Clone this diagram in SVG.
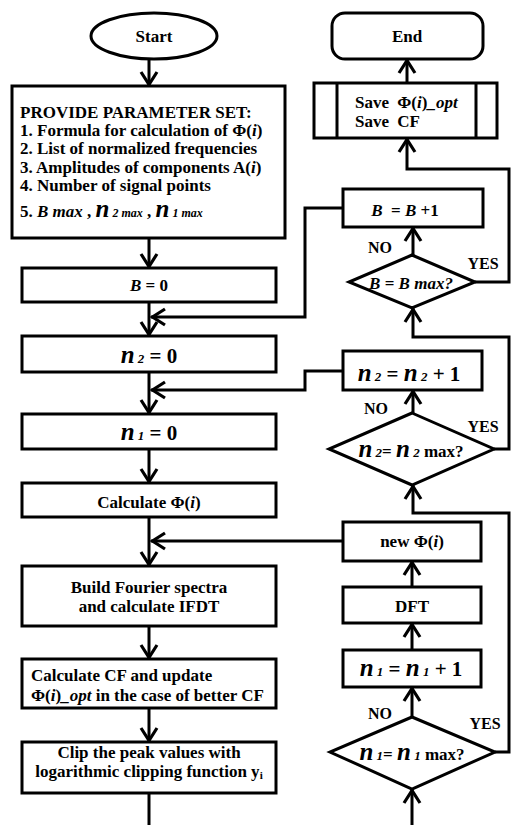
<svg xmlns="http://www.w3.org/2000/svg" width="513" height="825" viewBox="0 0 513 825">
<style>
.s{fill:#fff;stroke:#000;stroke-width:3}
text{font-family:"Liberation Serif","Times New Roman",serif;font-weight:bold;font-size:17px;fill:#000}
.c{text-anchor:middle}
.i{font-style:italic}
.p{font-size:17px}
.big{font-size:21px}
.nn{font-size:25px;font-style:italic}
.sub{font-size:13px;font-style:italic}
.sm{font-size:12px;font-style:italic}
.lbl{font-size:16px}
</style>
<defs>
<marker id="ah" markerUnits="userSpaceOnUse" orient="auto" markerWidth="20" markerHeight="20" viewBox="-16 -10 20 20" refX="0" refY="0" overflow="visible">
<path d="M-14,-8 L-1.5,0 L-14,8" fill="none" stroke="#000" stroke-width="3.2"/>
</marker>
</defs>
<rect width="513" height="825" fill="#fff"/>
<g id="connectors" fill="none" stroke="#000" stroke-width="3">
<path d="M149,59 V86" marker-end="url(#ah)"/>
<path d="M149,238 V268" marker-end="url(#ah)"/>
<path d="M149,302 V336" marker-end="url(#ah)"/>
<path d="M149,372 V414" marker-end="url(#ah)"/>
<path d="M149,449 V483" marker-end="url(#ah)"/>
<path d="M149,517 V566" marker-end="url(#ah)"/>
<path d="M149,626 V659" marker-end="url(#ah)"/>
<path d="M149,708 V742" marker-end="url(#ah)"/>
<path d="M149,793 V825"/>
<path d="M407,83 V59" marker-end="url(#ah)"/>
<path d="M475,282 H509 V169 H407 V138" marker-end="url(#ah)"/>
<path d="M413,255 V227" marker-end="url(#ah)"/>
<path d="M343,208 H305 V317 H151" marker-end="url(#ah)"/>
<path d="M494,449 H509 V337 H413 V308" marker-end="url(#ah)"/>
<path d="M413,413 V390" marker-end="url(#ah)"/>
<path d="M343,371 H305 V390 H151" marker-end="url(#ah)"/>
<path d="M495,752 H509 V513 H413 V485" marker-end="url(#ah)"/>
<path d="M343,541 H151" marker-end="url(#ah)"/>
<path d="M412,587 V561" marker-end="url(#ah)"/>
<path d="M412,650 V623" marker-end="url(#ah)"/>
<path d="M412,717 V687" marker-end="url(#ah)"/>
<path d="M412,825 V789" marker-end="url(#ah)"/>
</g>
<g id="start">
<ellipse class="s" cx="154" cy="36" rx="63" ry="23"/>
<text class="c" x="154" y="42">Start</text>
</g>
<g id="params">
<rect class="s" x="12" y="86" width="273" height="152"/>
<text class="p" x="20" y="117.5">PROVIDE PARAMETER SET:</text>
<text class="p" x="20" y="135.9">1. Formula for calculation of Φ(<tspan class="i">i</tspan>)</text>
<text class="p" x="20" y="154.3">2. List of normalized frequencies</text>
<text class="p" x="20" y="172.7">3. Amplitudes of components A(<tspan class="i">i</tspan>)</text>
<text class="p" x="20" y="191.1">4. Number of signal points</text>
<text class="p" x="20" y="217">5. <tspan class="i">B max</tspan> , <tspan class="nn">n</tspan><tspan class="sm"> 2 max</tspan> , <tspan class="nn">n</tspan><tspan class="sm"> 1 max</tspan></text>
</g>
<g id="b0">
<rect class="s" x="22" y="268" width="254" height="34"/>
<text class="c" x="149" y="291"><tspan class="i">B</tspan> = 0</text>
</g>
<g id="n2zero">
<rect class="s" x="22" y="336" width="254" height="36"/>
<text class="c big" x="149" y="363"><tspan class="nn">n</tspan><tspan class="sub"> 2</tspan> = 0</text>
</g>
<g id="n1zero">
<rect class="s" x="22" y="414" width="254" height="35"/>
<text class="c big" x="149" y="440"><tspan class="nn">n</tspan><tspan class="sub"> 1</tspan> = 0</text>
</g>
<g id="calcphi">
<rect class="s" x="22" y="483" width="254" height="34"/>
<text class="c" x="149" y="508">Calculate Φ(<tspan class="i">i</tspan>)</text>
</g>
<g id="build">
<rect class="s" x="22" y="566" width="254" height="60"/>
<text class="c" x="149" y="593">Build Fourier spectra</text>
<text class="c" x="149" y="612">and calculate IFDT</text>
</g>
<g id="calccf">
<rect class="s" x="22" y="659" width="254" height="49"/>
<text x="31" y="681">Calculate CF and update</text>
<text x="31" y="701">Φ(<tspan class="i">i</tspan>)<tspan class="i">_opt</tspan> in the case of better CF</text>
</g>
<g id="clip">
<rect class="s" x="22" y="742" width="254" height="51"/>
<text class="c" x="149" y="758">Clip the peak values with</text>
<text class="c" x="149" y="777">logarithmic clipping function y<tspan font-size="11" dy="2">i</tspan></text>
</g>
<g id="end">
<rect class="s" x="332" y="13" width="151" height="46" rx="13"/>
<text class="c" x="407" y="42">End</text>
</g>
<g id="save">
<rect class="s" x="314" y="83" width="183" height="55"/>
<path d="M337,83 V138 M476,83 V138" stroke="#000" stroke-width="3"/>
<text class="p" x="355" y="107.5">Save <tspan dx="4">Φ(</tspan><tspan class="i">i</tspan>)<tspan class="i">_opt</tspan></text>
<text class="p" x="355" y="127">Save <tspan dx="4">CF</tspan></text>
</g>
<g id="bplus">
<rect class="s" x="343" y="189" width="140" height="38"/>
<text class="c" x="405" y="216"><tspan class="i">B</tspan> <tspan dx="4">= </tspan><tspan class="i">B</tspan> +1</text>
</g>
<g id="bdec">
<polygon class="s" points="412,255 475,282 412,308 349,282"/>
<text class="c i" x="411" y="289" font-size="18">B <tspan font-style="normal">=</tspan> B max?</text>
<text class="c lbl" x="380" y="253">NO</text>
<text class="c lbl" x="483" y="269">YES</text>
</g>
<g id="n2plus">
<rect class="s" x="343" y="351" width="139" height="39"/>
<text class="c big" x="409" y="381"><tspan class="nn">n</tspan><tspan class="sub"> 2</tspan> = <tspan class="nn">n</tspan><tspan class="sub"> 2</tspan> + 1</text>
</g>
<g id="n2dec">
<polygon class="s" points="412,413 494,449 412,485 329,449"/>
<text class="c" x="411" y="457" font-size="20"><tspan class="nn">n</tspan><tspan class="sub"> 2</tspan>= <tspan class="nn">n</tspan><tspan class="sub"> 2</tspan> max?</text>
<text class="c lbl" x="376" y="414">NO</text>
<text class="c lbl" x="483" y="432">YES</text>
</g>
<g id="newphi">
<rect class="s" x="343" y="522" width="138" height="39"/>
<text class="c" x="412" y="547">new Φ(<tspan class="i">i</tspan>)</text>
</g>
<g id="dft">
<rect class="s" x="343" y="587" width="138" height="36"/>
<text class="c" x="412" y="612">DFT</text>
</g>
<g id="n1plus">
<rect class="s" x="343" y="650" width="138" height="37"/>
<text class="c big" x="411" y="676"><tspan class="nn">n</tspan><tspan class="sub"> 1</tspan> = <tspan class="nn">n</tspan><tspan class="sub"> 1</tspan> + 1</text>
</g>
<g id="n1dec">
<polygon class="s" points="412,717 495,752 412,789 330,752"/>
<text class="c" x="412" y="760" font-size="20"><tspan class="nn">n</tspan><tspan class="sub"> 1</tspan>= <tspan class="nn">n</tspan><tspan class="sub"> 1</tspan> max?</text>
<text class="c lbl" x="380" y="719">NO</text>
<text class="c lbl" x="485" y="729">YES</text>
</g>
</svg>
